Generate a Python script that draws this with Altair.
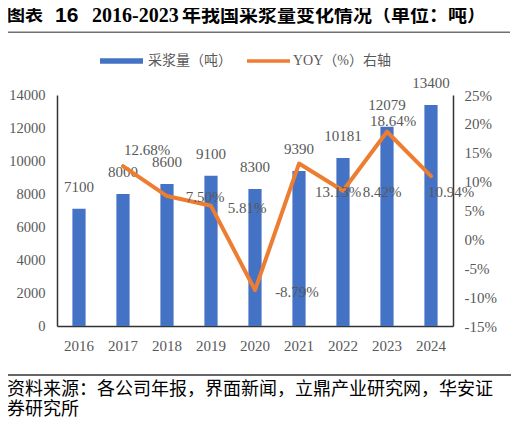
import altair as alt
import pandas as pd

# ---------------- data ----------------
years = ['2016', '2017', '2018', '2019', '2020', '2021', '2022', '2023', '2024']
volume = [7100, 8000, 8600, 9100, 8300, 9390, 10181, 12079, 13400]
yoy = [None, 12.68, 7.50, 5.81, -8.79, 13.13, 8.42, 18.64, 10.94]
left_ticks = [0, 2000, 4000, 6000, 8000, 10000, 12000, 14000]
right_ticks = [-15, -10, -5, 0, 5, 10, 15, 20, 25]
title_parts = ["图表", "16", "2016-2023", "年我国采浆量变化情况（单位：吨）"]
legend_labels = ["采浆量（吨）", "YOY（%）右轴"]
source_lines = ["资料来源：各公司年报，界面新闻，立鼎产业研究网，华安证", "券研究所"]

# label nudges in pixels (style only), as in the reference
yoy_label_nudge = [None, (24, -16), (38, 1), (36, 2), (42, 1.5), (39, 28), (39, 1), (6, -11), (20, 15.5)]

# ---------------- styles ----------------
SERIF = "Liberation Serif, Noto Sans CJK SC"
SANS = "Liberation Sans, Noto Sans CJK SC"
CJK = "Noto Sans CJK SC"
GREY = "#595959"
BLUE = "#4472C4"
ORANGE = "#ED7D31"
AXIS_C = "#333333"
W, H = 396, 231

df = pd.DataFrame({"year": years, "volume": volume, "yoy": yoy})
one = pd.DataFrame({"k": [0]})

x_enc = alt.X(
    "year:N", sort=years,
    scale=alt.Scale(paddingInner=0.7, paddingOuter=0.35),
    axis=alt.Axis(title=None, labelAngle=0, ticks=False, domainColor=AXIS_C, domainWidth=1.5,
                  labelPadding=12, labelFontSize=15, labelColor=GREY, labelFont=SERIF),
)
y_left = alt.Y(
    "volume:Q", scale=alt.Scale(domain=[0, 14000], nice=False, zero=True),
    axis=alt.Axis(title=None, values=left_ticks, grid=False, ticks=False, domainColor=AXIS_C,
                  domainWidth=1.5, labelPadding=12, labelFontSize=14.5, labelColor=GREY,
                  labelFont=SERIF, format="d"),
)
y_right = alt.Y(
    "yoy:Q", scale=alt.Scale(domain=[-15, 25], nice=False, zero=False),
    axis=alt.Axis(title=None, orient="right", values=right_ticks, grid=False, ticks=False,
                  domainColor=AXIS_C, domainWidth=1.5, labelPadding=11, labelFontSize=15,
                  labelColor=GREY, labelFont=SERIF, labelExpr="datum.value + '%'"),
)

bars = alt.Chart(df).mark_bar(color=BLUE).encode(x=x_enc, y=y_left)
bar_text = alt.Chart(df).mark_text(dy=-22, baseline="middle", font=SERIF, fontSize=15, color=GREY).encode(
    x=x_enc, y=y_left, text=alt.Text("volume:Q", format="d"))
left = alt.layer(bars, bar_text)

line = alt.Chart(df).transform_filter("datum.yoy != null").mark_line(
    color=ORANGE, strokeWidth=4, strokeJoin="round", strokeCap="round").encode(x=x_enc, y=y_right)

yoy_layers = [line]
for yr, v, nudge in zip(years, yoy, yoy_label_nudge):
    if v is None:
        continue
    yoy_layers.append(
        alt.Chart(df).transform_filter(alt.datum.year == yr)
        .transform_calculate(lbl="(datum.yoy < 0 ? '-' : '') + format(abs(datum.yoy), '.2f') + '%'")
        .mark_text(dx=nudge[0], dy=nudge[1], baseline="middle", align="center",
                   font=SERIF, fontSize=15, color=GREY)
        .encode(x=x_enc, y=y_right, text="lbl:N")
    )
right = alt.layer(*yoy_layers)


def txt(s, x, y, size, font, color="black", weight="normal"):
    return alt.Chart(one).mark_text(align="left", baseline="middle", fontSize=size, font=font,
                                    fontWeight=weight, color=color).encode(
        x=alt.value(x), y=alt.value(y), text=alt.value(s))


# decorations (title, legend, source)
t1 = txt(title_parts[0], -50, -79.5, 18, CJK, weight="bold")
t2 = txt(title_parts[1], -2, -79.5, 21, SANS, weight="bold")
t3 = txt(title_parts[2], 35, -79.5, 20, SERIF, weight="bold")
t4 = txt(title_parts[3], 125, -79.5, 19, CJK, weight="bold")
title_rule = alt.Chart(one).mark_rule(color="#707070", strokeWidth=1.5).encode(
    x=alt.value(-52), x2=alt.value(453), y=alt.value(-62.7))
leg_rect = alt.Chart(one).mark_rect(color=BLUE).encode(
    x=alt.value(43), x2=alt.value(86), y=alt.value(-36.7), y2=alt.value(-31.3))
leg_t1 = txt(legend_labels[0], 91, -34, 14, SERIF, GREY)
leg_line = alt.Chart(one).mark_rule(color=ORANGE, strokeWidth=3.5).encode(
    x=alt.value(190), x2=alt.value(233), y=alt.value(-34))
leg_t2 = txt(legend_labels[1], 236, -34, 14, SERIF, GREY)
src_rule = alt.Chart(one).mark_rule(color="#333333", strokeWidth=1.5).encode(
    x=alt.value(-52), x2=alt.value(455), y=alt.value(280))
src1 = txt(source_lines[0], -50, 295, 18, CJK)
src2 = txt(source_lines[1], -50, 315, 18, CJK)

chart = (
    alt.layer(left, right, t1, t2, t3, t4, title_rule, leg_rect, leg_t1, leg_line, leg_t2,
              src_rule, src1, src2)
    .resolve_scale(y="independent")
    .properties(width=W, height=H,
                padding={"left": 49, "top": 87, "right": 58, "bottom": 91},
                autosize=alt.AutoSizeParams(type="none"), background="white")
    .configure_view(stroke=None)
)

chart.save("out.html", embed_options={"renderer": "svg", "actions": False})
